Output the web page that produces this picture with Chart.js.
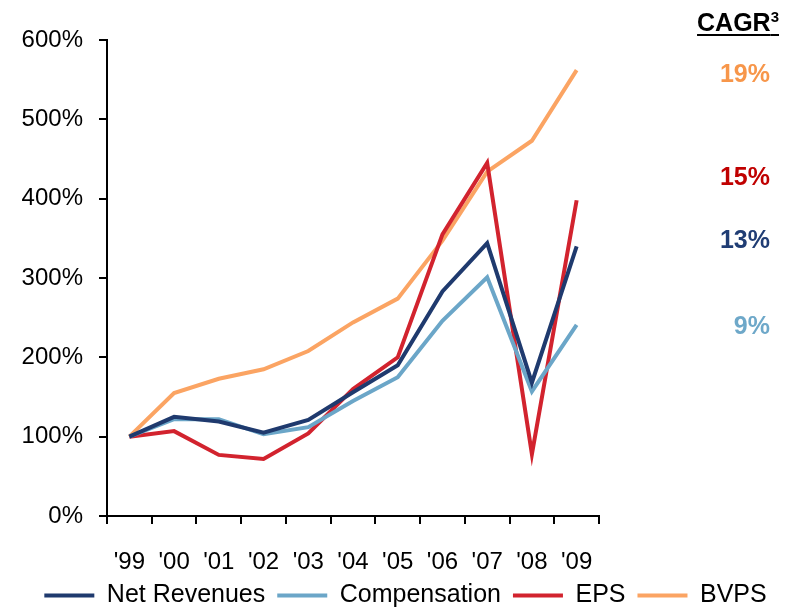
<!DOCTYPE html>
<html>
<head>
<meta charset="utf-8">
<script src="https://cdn.jsdelivr.net/npm/chart.js@4/dist/chart.umd.min.js"></script>
<style>
  html, body { margin: 0; padding: 0; background: #fff; }
  #wrap { position: relative; width: 793px; height: 611px; }
  canvas { display: block; }
  .cagr { position: absolute; right: 23px; font-family: "Liberation Sans", Arial, sans-serif;
          font-weight: bold; font-size: 25px; line-height: 1; text-align: right; }
  #cagrTitle { color: #000; text-decoration: underline; text-decoration-thickness: 2px;
               text-underline-offset: 3px; right: 14px; }
  #cagrTitle sup { font-size: 15px; vertical-align: 9px; }
</style>
</head>
<body>
<div id="wrap">
  <canvas id="c" width="793" height="611"></canvas>
  <div class="cagr" id="cagrTitle" style="top:9px">CAGR<sup>3</sup></div>
  <div class="cagr" style="top:61px;color:#F7964A">19%</div>
  <div class="cagr" style="top:164px;color:#C00000">15%</div>
  <div class="cagr" style="top:227px;color:#203D74">13%</div>
  <div class="cagr" style="top:313px;color:#6EA8C9">9%</div>
</div>
<script>
// Growth indexed to 1999 = 100%
const years = ["'99", "'00", "'01", "'02", "'03", "'04", "'05", "'06", "'07", "'08", "'09"];
const netRevenues  = [100, 125, 119, 105, 121, 156, 190, 283, 344, 168, 340];
const compensation = [100, 122, 122, 103, 112, 145, 175, 246, 301, 157, 241];
const eps          = [100, 107,  77,  72, 104, 160, 200, 355, 445,  78, 398];
const bvps         = [100, 155, 173, 185, 208, 244, 274, 347, 434, 473, 562];
const yTicks = [0, 100, 200, 300, 400, 500, 600];

const FONT = '"Liberation Sans", Arial, sans-serif';

function series(label, data, color) {
  return { label, data, borderColor: color, backgroundColor: color, borderWidth: 4,
           pointRadius: 0, pointHoverRadius: 0, tension: 0, fill: false };
}

new Chart(document.getElementById('c'), {
  type: 'line',
  data: {
    labels: years,
    datasets: [
      series('Net Revenues', netRevenues, '#1F3A6E'),
      series('Compensation', compensation, '#6BA6C8'),
      series('EPS', eps, '#D2232E'),
      series('BVPS', bvps, '#FBA463')
    ]
  },
  options: {
    responsive: false,
    animation: false,
    layout: { padding: { top: 40, left: 18, right: 0, bottom: -7 } },
    plugins: {
      tooltip: { enabled: false },
      legend: {
        position: 'bottom',
        labels: {
          font: { family: FONT, size: 25 },
          color: '#000',
          usePointStyle: true,
          pointStyle: 'line',
          pointStyleWidth: 50,
          boxHeight: 25,
          padding: 12
        }
      }
    },
    scales: {
      x: {
        type: 'category',
        offset: true,
        afterFit: (scale) => { scale.height = 55; },
        grid: { display: true, offset: true, drawOnChartArea: false, color: '#000',
                lineWidth: 2, tickLength: 8 },
        border: { display: true, color: '#000', width: 2 },
        ticks: { font: { family: FONT, size: 24 }, color: '#000', padding: 24,
                 maxRotation: 0, autoSkip: false }
      },
      y: {
        min: 0, max: 600,
        afterBuildTicks: (scale) => { scale.ticks = yTicks.map(v => ({ value: v })); },
        afterFit: (scale) => { scale.width = 89; },
        grid: { display: true, drawOnChartArea: false, color: '#000', lineWidth: 2, tickLength: 8 },
        border: { display: true, color: '#000', width: 2 },
        ticks: { font: { family: FONT, size: 24 }, color: '#000', padding: 16,
                 callback: (v) => v + '%' }
      },
      spacer: {
        position: 'right',
        display: true,
        afterFit: (scale) => { scale.width = 194; },
        grid: { display: false },
        border: { display: false },
        ticks: { display: false }
      }
    }
  }
});
</script>
</body>
</html>
